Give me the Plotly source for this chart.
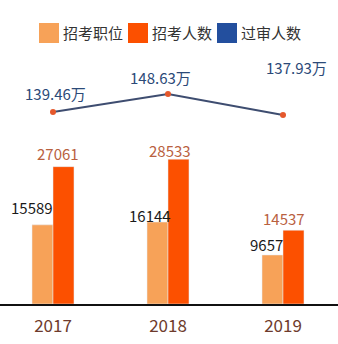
import plotly.graph_objects as go

years = ["2017", "2018", "2019"]
positions = [15589, 16144, 9657]          # 招考职位
applicants = [27061, 28533, 14537]        # 招考人数
passed = [139.46, 148.63, 137.93]         # 过审人数 (万)
passed_labels = ["139.46万", "148.63万", "137.93万"]
legend_names = ["招考职位", "招考人数", "过审人数"]

C_LIGHT = "#f7a258"
C_ORANGE = "#fc5000"
C_BLUE = "#234f9e"
C_LINE = "#3e4d70"
C_DOT = "#e5582c"
FONT = "Noto Sans CJK SC"

W, H = 338, 344
PLOT_H = 304

fig = go.Figure()
fig.add_trace(go.Bar(x=years, y=positions, marker_color=C_LIGHT, name=legend_names[0]))
fig.add_trace(go.Bar(x=years, y=applicants, marker_color=C_ORANGE, name=legend_names[1]))
fig.add_trace(go.Scatter(x=years, y=passed, yaxis="y2", mode="lines+markers",
                         line=dict(color=C_LINE, width=2),
                         marker=dict(color=C_DOT, size=6), name=legend_names[2]))

ann = []
# bar labels (x given as category index)
light_shift = [(-11, 17), (-8, 7), (-6, 10)]
for i, v in enumerate(positions):
    dx, dy = light_shift[i]
    ann.append(dict(x=i, y=v, xref="x", yref="y", text=str(v), showarrow=False,
                    xshift=-21/2 + dx, yshift=dy,
                    font=dict(family=FONT, size=15, color="#1a1a1a")))
orange_shift = [(-6, 13), (-9, 9), (-10, 12)]
for i, v in enumerate(applicants):
    dx, dy = orange_shift[i]
    ann.append(dict(x=i, y=v, xref="x", yref="y", text=str(v), showarrow=False,
                    xshift=21/2 + dx, yshift=dy,
                    font=dict(family=FONT, size=15, color="#b9613f")))
# line labels
line_shift = [(2, 19), (-8, 17), (13, 48)]
for i, v in enumerate(passed):
    dx, dy = line_shift[i]
    ann.append(dict(x=i, y=v, xref="x", yref="y2", text=passed_labels[i], showarrow=False,
                    xshift=dx, yshift=dy,
                    font=dict(family=FONT, size=15, color="#2c4a78")))

# custom legend
shapes = []
leg_x = [39, 128, 217]
leg_colors = [C_LIGHT, C_ORANGE, C_BLUE]
for lx, c, name in zip(leg_x, leg_colors, legend_names):
    shapes.append(dict(type="rect", xref="paper", yref="paper",
                       x0=lx / W, x1=(lx + 20) / W,
                       y0=(PLOT_H - 43) / PLOT_H, y1=(PLOT_H - 23) / PLOT_H,
                       fillcolor=c, line=dict(width=0)))
    ann.append(dict(x=(lx + 22) / W, y=(PLOT_H - 33) / PLOT_H, xref="paper", yref="paper",
                    text=name, showarrow=False, xanchor="left", yanchor="middle",
                    font=dict(family=FONT, size=15, color="#333333")))

k = 18 / (148.63 - 139.46)
y2_lo = 148.63 - (PLOT_H - 94) / k
y2_hi = y2_lo + PLOT_H / k

fig.update_layout(
    width=W, height=H,
    margin=dict(l=0, r=0, t=0, b=H - PLOT_H),
    paper_bgcolor="white", plot_bgcolor="white",
    barmode="group", bargap=0.635, bargroupgap=0,
    showlegend=False,
    font=dict(family=FONT),
    xaxis=dict(type="category", range=[-53 / 115, (W - 53) / 115],
               showline=True, linecolor="#111111", linewidth=2,
               showgrid=False, ticks="", zeroline=False, ticklabelstandoff=6,
               tickfont=dict(family=FONT, size=17, color="#6e3b2c")),
    yaxis=dict(range=[0, PLOT_H * 197], visible=False, showgrid=False, zeroline=False),
    yaxis2=dict(range=[y2_lo, y2_hi], overlaying="y", visible=False, showgrid=False, zeroline=False),
    annotations=ann, shapes=shapes,
)

fig.write_html("out.html")
